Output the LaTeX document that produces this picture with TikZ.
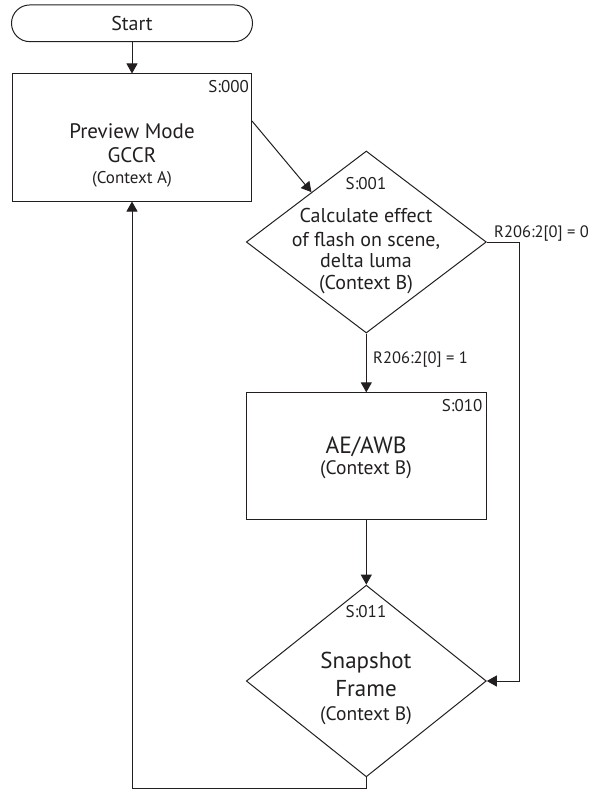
\documentclass[tikz,border=0pt]{standalone}
\usepackage{fontspec}
\setmainfont{PT Sans}
\usetikzlibrary{shapes.geometric,arrows.meta,calc}
\definecolor{ink}{RGB}{35,31,32}
\begin{document}
\begin{tikzpicture}[x=1pt,y=-1pt,
  termbox/.style={draw=ink,line width=1pt,rectangle,rounded corners=18.3pt,inner sep=0pt,minimum width=241pt,minimum height=36.7pt},
  procbox/.style={draw=ink,line width=1pt,rectangle,inner sep=0pt,minimum width=239pt,minimum height=127pt},
  decbox/.style={draw=ink,line width=1pt,diamond,inner sep=0pt,minimum width=240pt},
  txt/.style={inner sep=0pt,anchor=base,text=ink},
  sid/.style={inner sep=0pt,text=ink,font=\fontsize{17}{20}\selectfont},
  cond/.style={inner sep=0pt,anchor=base west,text=ink,font=\fontsize{16.5}{20}\selectfont},
  arr/.style={draw=ink,line width=1pt,-{Triangle[length=10pt,width=11pt]}},
  big/.style={font=\fontsize{21}{24}\selectfont},
  mid/.style={font=\fontsize{19.5}{22}\selectfont},
]
\useasboundingbox (0,0) rectangle (593,789);

% shapes
\node[termbox] (start) at (132,23.3) {};
\node[procbox] (b1) at (132,137.5) {};
\node[decbox,minimum height=182pt] (d1) at (366.3,242) {};
\node[procbox,minimum width=240.5pt,minimum height=126.3pt] (b2) at (366.3,456) {};
\node[decbox,minimum height=191.7pt] (d2) at (366.3,681) {};

% texts
\node[txt,font=\fontsize{20}{24}\selectfont] (tstart) at (132,30.5) {Start};

\node[sid,anchor=base east] (s0) at (249,93) {S:000};
\node[txt,big] (t1a) at (132,139) {Preview Mode};
\node[txt,big] (t1b) at (132,162.5) {GCCR};
\node[txt,font=\fontsize{17}{20}\selectfont] (t1c) at (132,183.5) {(Context A)};

\node[sid,anchor=base] (s1) at (366,189.3) {S:001};
\node[txt,font=\fontsize{20}{24}\selectfont] (t2a) at (366,222.7) {Calculate effect};
\node[txt,font=\fontsize{20}{24}\selectfont] (t2b) at (366,246) {of flash on scene,};
\node[txt,font=\fontsize{20}{24}\selectfont] (t2c) at (366,267.3) {delta luma};
\node[txt,font=\fontsize{20}{24}\selectfont] (t2d) at (366,289.3) {(Context B)};

\node[sid,anchor=base east] (s2) at (482.5,411) {S:010};
\node[txt,font=\fontsize{23.5}{26}\selectfont] (t3a) at (366,453.3) {AE/AWB};
\node[txt,mid] (t3b) at (366,474) {(Context B)};

\node[sid,anchor=base] (s3) at (366,617.7) {S:011};
\node[txt,font=\fontsize{23}{26}\selectfont] (t4a) at (366,668) {Snapshot};
\node[txt,font=\fontsize{23}{26}\selectfont] (t4b) at (366,696.5) {Frame};
\node[txt,mid] (t4c) at (366,720.5) {(Context B)};

% connectors
\coordinate (b1out) at ($(b1.north east)+(0,47.5)$);
\coordinate (d1in) at ($(d1.west)!0.545!(d1.north)$);
\coordinate (rturn) at (519,242);
\coordinate (lbot) at (132,788);

\draw[arr] (start) -- (b1);
\draw[arr] (b1out) -- (d1in);
\draw[arr] (d1) -- (b2);
\draw[arr] (b2) -- (d2);
\draw[arr] (d1.east) -- (rturn) |- (d2.east);
\draw[arr] (d2.south) |- (lbot) -- (b1.south);

\node[cond] (c0) at (494,237) {R206:2[0] = 0};
\node[cond] (c1) at (373,363) {R206:2[0] = 1};
\end{tikzpicture}
\end{document}
